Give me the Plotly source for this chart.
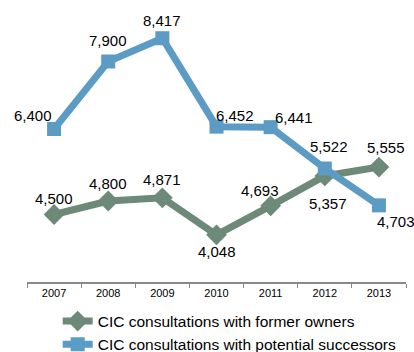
import plotly.graph_objects as go

years = ["2007", "2008", "2009", "2010", "2011", "2012", "2013"]
former_owners = [4500, 4800, 4871, 4048, 4693, 5357, 5555]
successors = [6400, 7900, 8417, 6452, 6441, 5522, 4703]

green = "#6D8A78"
blue = "#5B9BC4"

# label placement per point: (xanchor, yanchor, xshift, yshift)
pos_owners = [("center", "bottom", 0, 6), ("center", "bottom", 0, 7), ("center", "bottom", 0, 8),
              ("center", "top", 0, -6), ("right", "bottom", 10, 5), ("center", "top", 3, -17),
              ("center", "bottom", 7, 9)]
pos_succ = [("right", "bottom", 0, 3), ("center", "bottom", 0, 11), ("center", "bottom", 0, 7),
            ("left", "bottom", -3, 1), ("left", "bottom", 2, -1), ("center", "bottom", 4, 12),
            ("left", "top", -4, -6)]

fig = go.Figure()
fig.add_trace(go.Scatter(x=years, y=former_owners, mode="lines+markers",
                         name="CIC consultations with former owners",
                         line=dict(color=green, width=7),
                         marker=dict(symbol="diamond", size=16, color=green),
                         legendgroup="a"))
fig.add_trace(go.Scatter(x=years, y=successors, mode="lines+markers",
                         name="CIC consultations with potential successors",
                         line=dict(color=blue, width=7),
                         marker=dict(symbol="square", size=14, color=blue),
                         legendgroup="b"))

anns = []
for vals, pos in ((former_owners, pos_owners), (successors, pos_succ)):
    for i, (v, (xa, ya, xs, ys)) in enumerate(zip(vals, pos)):
        anns.append(dict(x=i, y=v, text=f"{v:,}", showarrow=False, xanchor=xa, yanchor=ya,
                         xshift=xs, yshift=ys, font=dict(size=15, color="#000000")))

fig.update_layout(
    width=414, height=352,
    margin=dict(l=27, r=8, t=12, b=70, autoexpand=False),
    paper_bgcolor="white", plot_bgcolor="white",
    font=dict(family="Liberation Sans, Arial, sans-serif", color="#000000"),
    annotations=anns,
    showlegend=True,
    legend=dict(orientation="v", x=0.081, y=-0.189, xanchor="left", yanchor="middle",
                font=dict(size=15.5), tracegroupgap=0, itemwidth=30,
                bgcolor="rgba(0,0,0,0)"),
)
fig.update_xaxes(type="category", range=[-0.5, 6.5], showline=True, linecolor="#888888", linewidth=2,
                 ticks="outside", tickson="boundaries", ticklen=4, tickcolor="#888888",
                 tickwidth=1, showgrid=False, zeroline=False, automargin=False,
                 tickfont=dict(size=11, color="#000000"))
fig.update_yaxes(range=[3000, 9000], visible=False, showgrid=False, zeroline=False)

fig.write_html("out.html")
